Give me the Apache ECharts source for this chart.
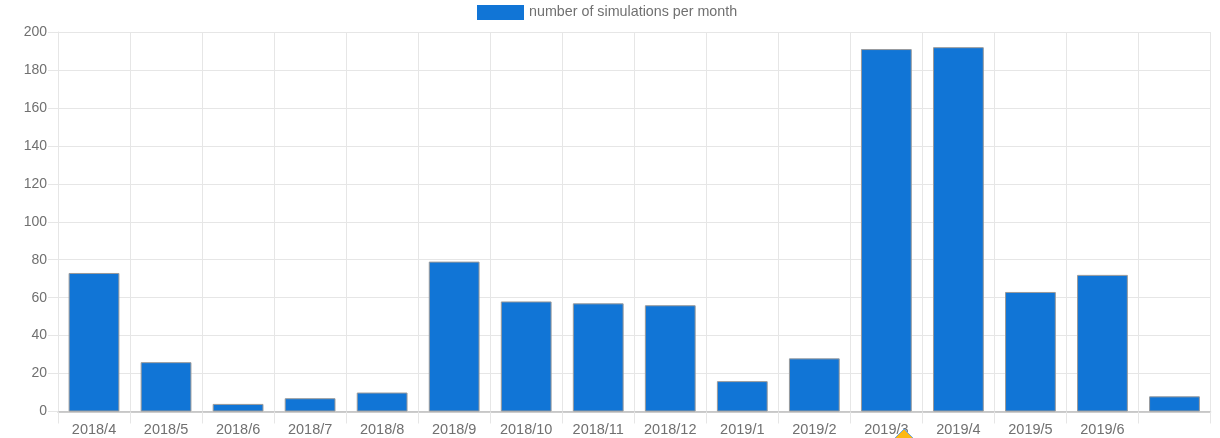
<!DOCTYPE html>
<html><head><meta charset="utf-8">
<style>html,body{margin:0;padding:0;background:#fff}#c{width:1220px;height:438px}</style>
<script src="https://cdn.jsdelivr.net/npm/echarts@6/dist/echarts.min.js"></script>
</head><body><div id="c"></div>
<script>
const categories = ['2018/4','2018/5','2018/6','2018/7','2018/8','2018/9','2018/10','2018/11','2018/12','2019/1','2019/2','2019/3','2019/4','2019/5','2019/6',''];
const simulations = [73,26,4,7,10,79,58,57,56,16,28,191,192,63,72,8];
const seriesName = 'number of simulations per month';
const chart = echarts.init(document.getElementById('c'));
const font = 'Liberation Sans, Arial, sans-serif';
chart.setOption({
  animation:false,
  legend:{top:0,left:472,itemWidth:47,itemHeight:15,itemGap:8,icon:'rect',
    data:[seriesName],
    itemStyle:{borderWidth:0},
    textStyle:{color:'#707070',fontSize:14.3,fontFamily:font,padding:[2,0,0,0]}},
  grid:{left:58,right:9.5,top:32,bottom:26.5,containLabel:false},
  xAxis:{type:'category',data:categories,
    axisLine:{show:true,lineStyle:{color:'#bdbdbd',width:1.5}},
    axisTick:{show:true,length:12,alignWithLabel:false,lineStyle:{color:'#e6e6e6'}},
    axisLabel:{color:'#707070',fontSize:14.5,fontFamily:font,margin:11,interval:0},
    splitLine:{show:true,lineStyle:{color:'#e6e6e6',width:1}}},
  yAxis:{type:'value',min:0,max:200,interval:20,
    axisLine:{show:true,lineStyle:{color:'#e6e6e6'}},
    axisTick:{show:true,length:10,lineStyle:{color:'#e6e6e6'}},
    axisLabel:{color:'#707070',fontSize:14,fontFamily:font,margin:11},
    splitLine:{show:true,lineStyle:{color:'#e6e6e6',width:1}}},
  series:[{name:seriesName,type:'bar',data:simulations,barWidth:'70.5%',
    itemStyle:{color:'#1175d6',borderColor:'#9a9a9a',borderWidth:1}}],
  graphic:[{type:'polygon',shape:{points:[[904,429],[884,449],[924,449]]},
    style:{fill:'#fdb813',stroke:'#6fa8dc',lineWidth:1},z:10}]
});
</script></body></html>
